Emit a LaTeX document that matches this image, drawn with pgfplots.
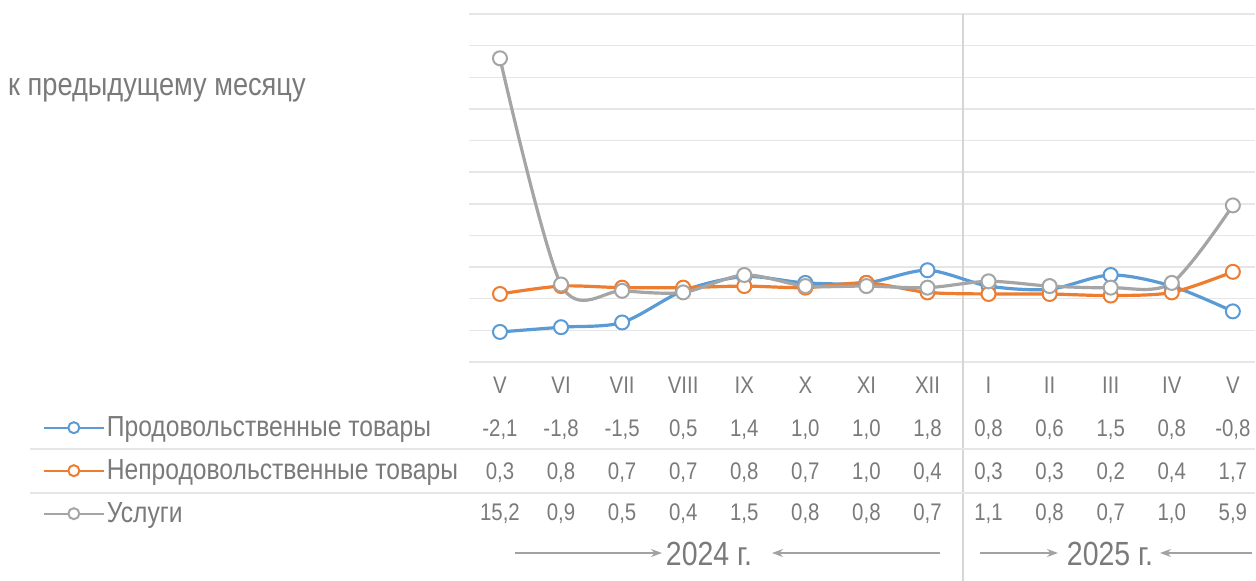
\documentclass[border=0pt]{standalone}
\usepackage{fontspec}
\setmainfont{Liberation Sans}[FakeStretch=0.85]
\usepackage{pgfplots}
\pgfplotsset{compat=1.18}
\usepackage{pgfplotstable}
\usetikzlibrary{arrows.meta}

\definecolor{foodblue}{HTML}{5B9BD5}
\definecolor{nonfoodorange}{HTML}{ED7D31}
\definecolor{servgray}{HTML}{A5A5A5}
\definecolor{txtgray}{HTML}{7A7A7A}
\definecolor{gridgray}{HTML}{E6E6E6}
\definecolor{sepgray}{HTML}{D6D6D6}

% months V.2024 ... V.2025, % change to previous month
\pgfplotstableread{
x  food  nonfood  serv
0  -2.1  0.3  15.2
1  -1.8  0.8  0.9
2  -1.5  0.7  0.5
3   0.5  0.7  0.4
4   1.4  0.8  1.5
5   1.0  0.7  0.8
6   1.0  1.0  0.8
7   1.8  0.4  0.7
8   0.8  0.3  1.1
9   0.6  0.3  0.8
10  1.5  0.2  0.7
11  0.8  0.4  1.0
12 -0.8  1.7  5.9
}\cpi

\newcommand{\valfont}{\fontsize{24}{28}\selectfont}
\newcommand{\legfont}{\fontsize{29}{34}\selectfont}
\newcommand{\titlefont}{\fontsize{32}{36}\selectfont}
\newcommand{\yearfont}{\fontsize{33.5}{38}\selectfont}

\begin{document}
\begin{tikzpicture}
\begin{axis}[
    scale only axis, width=786pt, height=348pt,
    xmin=-0.5, xmax=12.37, ymin=-4, ymax=18,
    clip=false,
    axis line style={draw=none},
    major tick length=0pt,
    ytick={-4,-2,...,18}, yticklabels={},
    ymajorgrids, grid style={gridgray, line width=1.5pt},
    xtick={0,...,12},
    xticklabels={V,VI,VII,VIII,IX,X,XI,XII,I,II,III,IV,V},
    xticklabel style={anchor=base, yshift=-31.5pt, font=\valfont, text=txtgray},
    /pgf/number format/fixed,
    /pgf/number format/fixed zerofill,
    /pgf/number format/precision=1,
    /pgf/number format/use comma,
    /pgf/number format/assume math mode=true,
    legend style={
        at={(axis description cs:-0.543,-0.1508)}, anchor=north west,
        draw=none, fill=none, inner sep=0pt, row sep=15pt,
        font=\legfont, text=txtgray,
        nodes={inner sep=0pt, inner xsep=2pt, text height=22pt, text depth=6pt},
    },
    legend cell align=left,
    legend image code/.code={
        \draw[mark repeat=2, mark phase=2, #1, line width=2pt, mark size=5.5pt]
            plot coordinates {(0pt,1pt) (30pt,1pt) (60pt,1pt)};
    },
    series/.style={smooth, line width=3.2pt, mark=*, mark size=7pt,
        mark options={solid, fill=white, line width=2pt}},
    tablerow/.style={draw=none, forget plot, nodes near coords, point meta=explicit,
        every node near coord/.style={anchor=base, font=\valfont, text=txtgray, inner sep=0pt}},
]
\coordinate (O) at (rel axis cs:0,0);
% separator between years and table rules
\draw[sepgray, line width=1.5pt] (axis cs:7.58,18) -- (axis cs:7.58,-17.9);
\draw[gridgray, line width=2pt] (axis cs:-7.69,-9.48) -- (axis cs:12.37,-9.48);
\draw[gridgray, line width=2pt] (axis cs:-7.69,-12.26) -- (axis cs:12.37,-12.26);

\addplot[series, foodblue] table[x=x, y=food] {\cpi};
\addlegendentry{Продовольственные товары}
\addplot[series, nonfoodorange] table[x=x, y=nonfood] {\cpi};
\addlegendentry{Непродовольственные товары}
\addplot[series, servgray] table[x=x, y=serv] {\cpi};
\addlegendentry{Услуги}

% data table under the chart
\addplot[tablerow] table[x=x, y expr=-8.69, meta=food] {\cpi};
\addplot[tablerow] table[x=x, y expr=-11.41, meta=nonfood] {\cpi};
\addplot[tablerow] table[x=x, y expr=-14.02, meta=serv] {\cpi};
\end{axis}

% pixel-like frame: origin top left, y down
\begin{scope}[shift={(O)}, x=1pt, y=-1pt, shift={(-469.45,-362)}]
  \node[anchor=base west, font=\titlefont, text=txtgray, inner sep=0pt] at (8,96) {к предыдущему месяцу};
  \begin{scope}[txtgray!70, line width=1.5pt, arrows={-Stealth[length=11pt, width=8pt]}]
    \draw (515,553) -- (662,553);
    \draw (940,553) -- (772,553);
    \draw (980,553) -- (1058,553);
    \draw (1252,553) -- (1160,553);
  \end{scope}
  \node[anchor=base, font=\yearfont, text=txtgray, inner sep=0pt] at (709,565) {2024 г.};
  \node[anchor=base, font=\yearfont, text=txtgray, inner sep=0pt] at (1110,565) {2025 г.};
  \pgfresetboundingbox
  \useasboundingbox (0,0) rectangle (1256,581);
\end{scope}
\end{tikzpicture}
\end{document}
